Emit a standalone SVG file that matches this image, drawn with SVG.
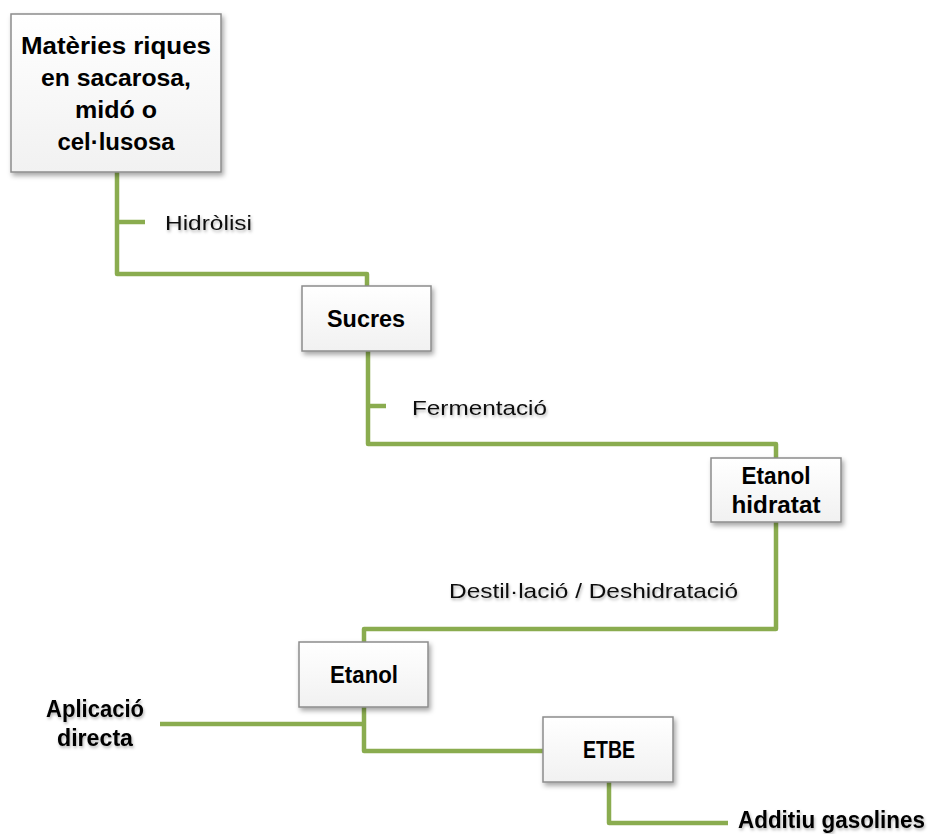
<svg xmlns="http://www.w3.org/2000/svg" width="929" height="834" viewBox="0 0 929 834">
<style>
.box{fill:url(#bg);stroke:#8c8c8c;stroke-width:1.5;filter:url(#sh)}
.con{fill:none;stroke:#8aac4f;stroke-width:4.5;stroke-linejoin:round;stroke-linecap:butt}
.b{font-family:"Liberation Sans",Arial,sans-serif;font-weight:bold;font-size:23.5px;fill:#000;text-anchor:middle}
.t{font-family:"Liberation Sans",Arial,sans-serif;font-size:21px;fill:#111;filter:url(#tsh)}
.tb{font-family:"Liberation Sans",Arial,sans-serif;font-weight:bold;font-size:23px;fill:#000;filter:url(#tsh)}
</style>
<defs>
<linearGradient id="bg" x1="0" y1="0" x2="0" y2="1"><stop offset="0" stop-color="#ffffff"/><stop offset="1" stop-color="#f1f1f1"/></linearGradient>
<filter id="sh" x="-20%" y="-20%" width="150%" height="150%"><feDropShadow dx="2" dy="3" stdDeviation="2.5" flood-color="#000" flood-opacity="0.35"/></filter>
<filter id="tsh" x="-10%" y="-30%" width="120%" height="170%"><feDropShadow dx="1" dy="2" stdDeviation="1.5" flood-color="#000" flood-opacity="0.3"/></filter>
</defs>
<rect width="929" height="834" fill="#fff"/>
<g id="connectors">
<path class="con" d="M117 172 V274 H367 V286"/>
<path class="con" d="M117 222 H145"/>
<path class="con" d="M368 351 V444 H776 V458"/>
<path class="con" d="M368 406 H386"/>
<path class="con" d="M776 522 V629 H364 V642"/>
<path class="con" d="M364 707 V751 H543"/>
<path class="con" d="M160 724 H364"/>
<path class="con" d="M609 782 V823 H728"/>
</g>
<g id="labels">
<text class="t" x="165" y="230" textLength="87" lengthAdjust="spacingAndGlyphs">Hidròlisi</text>
<text class="t" x="412" y="415" textLength="135" lengthAdjust="spacingAndGlyphs">Fermentació</text>
<text class="t" x="449" y="598" textLength="289" lengthAdjust="spacingAndGlyphs">Destil·lació / Deshidratació</text>
</g>
<g id="n1">
<rect class="box" x="11" y="14" width="210" height="158"/>
<text class="b" x="116" y="54" textLength="190" lengthAdjust="spacingAndGlyphs">Matèries riques</text>
<text class="b" x="116" y="86" textLength="150" lengthAdjust="spacingAndGlyphs">en sacarosa,</text>
<text class="b" x="116" y="118" textLength="82" lengthAdjust="spacingAndGlyphs">midó o</text>
<text class="b" x="116" y="150" textLength="117" lengthAdjust="spacingAndGlyphs">cel·lusosa</text>
</g>
<g id="n2">
<rect class="box" x="302" y="286" width="129" height="65"/>
<text class="b" x="366" y="327" textLength="78" lengthAdjust="spacingAndGlyphs">Sucres</text>
</g>
<g id="n3">
<rect class="box" x="711" y="458" width="130" height="64"/>
<text class="b" x="776" y="484" textLength="69" lengthAdjust="spacingAndGlyphs">Etanol</text>
<text class="b" x="776" y="513" textLength="89" lengthAdjust="spacingAndGlyphs">hidratat</text>
</g>
<g id="n4">
<rect class="box" x="299" y="642" width="129" height="65"/>
<text class="b" x="364" y="683" textLength="68" lengthAdjust="spacingAndGlyphs">Etanol</text>
</g>
<g id="n5">
<rect class="box" x="543" y="717" width="130" height="65"/>
<text class="b" x="609" y="758" textLength="52" lengthAdjust="spacingAndGlyphs">ETBE</text>
</g>
<g id="n6">
<text class="tb" x="95" y="717" text-anchor="middle" textLength="98" lengthAdjust="spacingAndGlyphs">Aplicació</text>
<text class="tb" x="95" y="746" text-anchor="middle" textLength="76" lengthAdjust="spacingAndGlyphs">directa</text>
</g>
<g id="n7">
<text class="tb" x="738" y="828" textLength="187" lengthAdjust="spacingAndGlyphs">Additiu gasolines</text>
</g>
</svg>
